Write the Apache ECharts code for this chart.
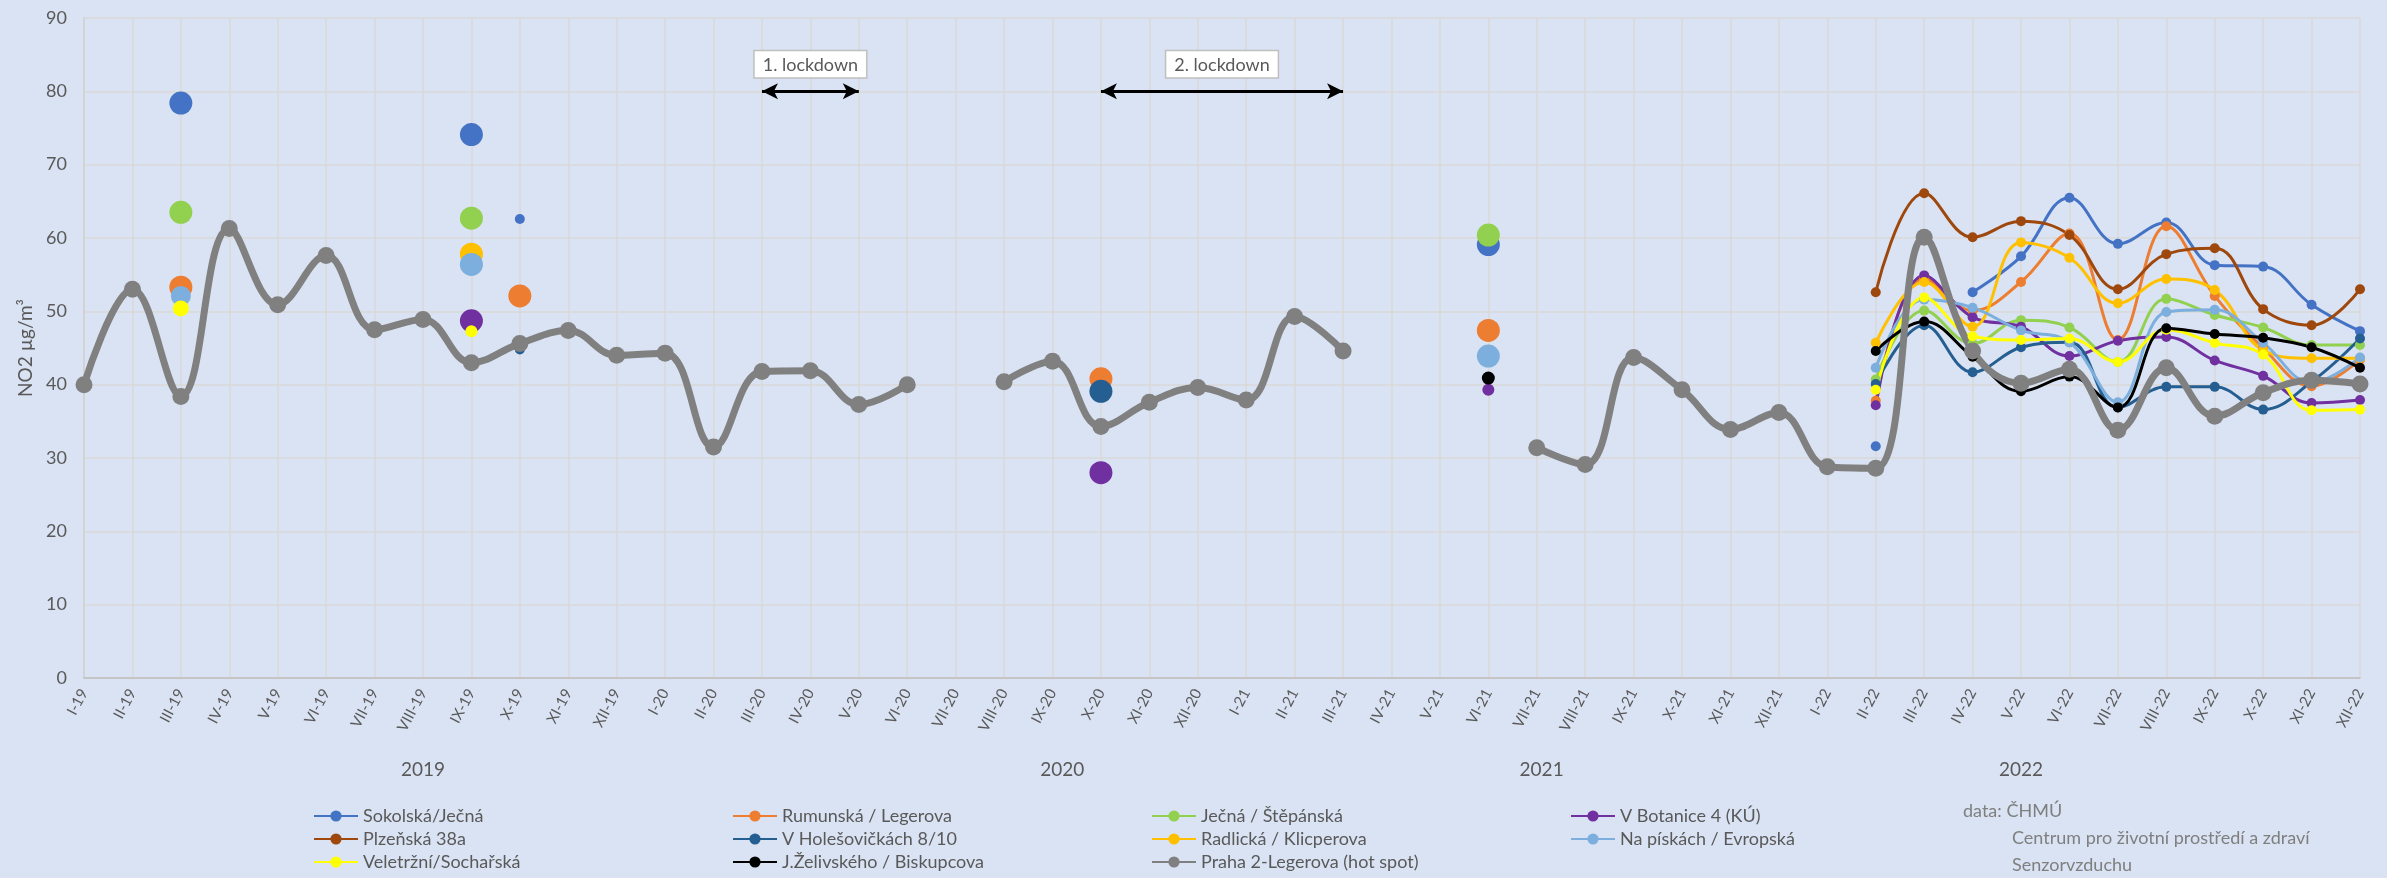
<!DOCTYPE html>
<html>
<head>
<meta charset="utf-8">
<script src="https://cdn.jsdelivr.net/npm/echarts@6/dist/echarts.min.js"></script>
<style>
  html, body { margin: 0; padding: 0; background: #dae3f3; }
  #chart { width: 2387px; height: 878px; }
</style>
</head>
<body>
<div id="chart"></div>
<script>
const _ = null;

const months = [
  'I-19','II-19','III-19','IV-19','V-19','VI-19','VII-19','VIII-19','IX-19','X-19','XI-19','XII-19',
  'I-20','II-20','III-20','IV-20','V-20','VI-20','VII-20','VIII-20','IX-20','X-20','XI-20','XII-20',
  'I-21','II-21','III-21','IV-21','V-21','VI-21','VII-21','VIII-21','IX-21','X-21','XI-21','XII-21',
  'I-22','II-22','III-22','IV-22','V-22','VI-22','VII-22','VIII-22','IX-22','X-22','XI-22','XII-22'
];

const yearLabels = ['2019', '2020', '2021', '2022'];
const yearLabelAt = [7.0, 20.2, 30.1, 40.0];

const yTicks = { min: 0, max: 90, interval: 10 };

const sokolska = [
  _,_,78.4,_,_,_,_,_,74.1,62.6,_,_,
  _,_,_,_,_,_,_,_,_,_,_,_,
  _,_,_,_,_,59.1,_,_,_,_,_,_,
  _,31.6,_,52.6,57.5,65.5,59.2,62.1,56.3,56.1,50.9,47.3
];
const rumunska = [
  _,_,53.3,_,_,_,_,_,_,52.1,_,_,
  _,_,_,_,_,_,_,_,_,40.8,_,_,
  _,_,_,_,_,47.4,_,_,_,_,_,_,
  _,37.8,54.5,50.1,54.0,60.6,46.1,61.6,52.1,45.0,39.8,43.4
];
const jecna = [
  _,_,63.5,_,_,_,_,_,62.7,_,_,_,
  _,_,_,_,_,_,_,_,_,_,_,_,
  _,_,_,_,_,60.4,_,_,_,_,_,_,
  _,40.7,50.1,45.6,48.8,47.8,43.1,51.7,49.5,47.8,45.4,45.4
];
const botanice = [
  _,_,_,_,_,_,_,_,48.7,_,_,_,
  _,_,_,_,_,_,_,_,_,28.0,_,_,
  _,_,_,_,_,39.3,_,_,_,_,_,_,
  _,37.2,54.9,49.2,47.9,43.9,46.0,46.5,43.3,41.2,37.5,37.9
];
const plzenska = [
  _,_,_,_,_,_,_,_,_,_,_,_,
  _,_,_,_,_,_,_,_,_,_,_,_,
  _,_,_,_,_,_,_,_,_,_,_,_,
  _,52.6,66.1,60.1,62.3,60.4,53.0,57.8,58.6,50.3,48.1,53.0
];
const holesovickach = [
  _,_,_,_,_,_,_,_,_,44.8,_,_,
  _,_,_,_,_,_,_,_,_,39.1,_,_,
  _,_,_,_,_,_,_,_,_,_,_,_,
  _,40.1,48.1,41.7,45.1,45.8,36.9,39.7,39.7,36.6,40.4,46.3
];
const radlicka = [
  _,_,_,_,_,_,_,_,57.8,_,_,_,
  _,_,_,_,_,_,_,_,_,_,_,_,
  _,_,_,_,_,_,_,_,_,_,_,_,
  _,45.7,54.0,47.9,59.4,57.3,51.1,54.4,52.9,44.7,43.6,43.6
];
const naPiskach = [
  _,_,52.1,_,_,_,_,_,56.4,_,_,_,
  _,_,_,_,_,_,_,_,_,_,_,_,
  _,_,_,_,_,43.9,_,_,_,_,_,_,
  _,42.3,51.6,50.5,47.4,45.8,37.6,49.9,50.2,45.7,40.3,43.7
];
const veletrzni = [
  _,_,50.4,_,_,_,_,_,47.3,_,_,_,
  _,_,_,_,_,_,_,_,_,_,_,_,
  _,_,_,_,_,_,_,_,_,_,_,_,
  _,39.3,51.9,46.6,46.1,46.3,43.1,47.5,45.7,44.1,36.5,36.6
];
const zelivskeho = [
  _,_,_,_,_,_,_,_,_,_,_,_,
  _,_,_,_,_,_,_,_,_,_,_,_,
  _,_,_,_,_,40.9,_,_,_,_,_,_,
  _,44.6,48.6,43.8,39.1,41.1,36.9,47.7,46.9,46.4,45.1,42.3
];
const legerova = [
  40.0,53.0,38.4,61.3,50.9,57.6,47.5,48.9,43.0,45.6,47.4,44.0,
  44.3,31.5,41.8,41.9,37.3,40.0,_,40.4,43.2,34.3,37.6,39.6,
  37.9,49.3,44.6,_,_,_,31.4,29.1,43.7,39.3,33.9,36.2,
  28.8,28.6,60.1,44.6,40.2,42.1,33.8,42.3,35.7,38.9,40.6,40.1
];

const seriesNames = [
  'Sokolská/Ječná', 'Rumunská / Legerova', 'Ječná / Štěpánská', 'V Botanice 4 (KÚ)',
  'Plzeňská 38a', 'V Holešovičkách 8/10', 'Radlická / Klicperova', 'Na pískách / Evropská',
  'Veletržní/Sochařská', 'J.Želivského / Biskupcova', 'Praha 2-Legerova (hot spot)'
];
const seriesValues = [sokolska, rumunska, jecna, botanice, plzenska, holesovickach,
  radlicka, naPiskach, veletrzni, zelivskeho, legerova];

// campaign measurements before 2022 are single points; continuous monitoring starts in 2022
const continuousFrom = 'I-22';

const lockdownLabels = ['1. lockdown', '2. lockdown'];
const lockdownFrom = ['III-20', 'X-20'];
const lockdownTo = ['V-20', 'III-21'];
const lockdownLevel = 80;

const sourceLines = ['data: ČHMÚ', 'Centrum pro životní prostředí a zdraví', 'Senzorvzduchu'];

/* ---------- styles (kept apart from the data) ---------- */
const FONT = 'Lato, "Open Sans", sans-serif';
const colors = ['#4472C4', '#ED7D31', '#92D050', '#7030A0', '#9E480E', '#255E91',
  '#FFC000', '#7CAFDD', '#FFFF00', '#000000', '#808080'];
const markerOverrides = {
  0: { 9: 10 },
  3: { 29: 12 },
  5: { 9: 10 },
  7: { 2: 20 },
  8: { 2: 16, 8: 12 },
  9: { 29: 13 }
};
const HOT = 10;
const splitIdx = months.indexOf(continuousFrom);

const series = [];
seriesValues.forEach((vals, si) => {
  const isHot = si === HOT;
  const lineData = isHot ? vals : vals.map((v, i) => (i >= splitIdx ? v : null));
  series.push({
    name: seriesNames[si],
    type: 'line',
    data: lineData,
    smooth: 0.4,
    connectNulls: false,
    showSymbol: true,
    showAllSymbol: true,
    symbol: 'circle',
    symbolSize: isHot ? 17 : 10,
    lineStyle: { color: colors[si], width: isHot ? 7 : 3 },
    itemStyle: { color: colors[si] },
    emphasis: { disabled: true },
    z: 2
  });
  if (!isHot) {
    const pointData = vals.map((v, i) => (i < splitIdx ? v : null));
    series.push({
      name: seriesNames[si],
      type: 'scatter',
      data: pointData,
      symbol: 'circle',
      symbolSize: (v, p) => {
        const ov = markerOverrides[si];
        if (ov && ov[p.dataIndex] != null) return ov[p.dataIndex];
        return 23;
      },
      itemStyle: { color: colors[si], opacity: 1 },
      emphasis: { disabled: true },
      z: 2
    });
  }
});

series.push({
  name: 'lockdowns',
  type: 'line',
  data: [],
  silent: true,
  z: 5,
  markLine: {
    silent: true,
    symbol: ['arrow', 'arrow'],
    symbolSize: [12, 16],
    lineStyle: { color: '#000', width: 3, type: 'solid' },
    label: {
      show: true,
      position: 'insideMiddleTop',
      distance: 14,
      color: '#595959',
      fontSize: 18,
      fontFamily: FONT,
      backgroundColor: '#ffffff',
      borderColor: '#bfbfbf',
      borderWidth: 1.5,
      padding: [5, 8, 3, 8]
    },
    emphasis: { disabled: true },
    data: lockdownLabels.map((lab, i) => [
      { coord: [lockdownFrom[i], lockdownLevel], label: { formatter: lab } },
      { coord: [lockdownTo[i], lockdownLevel] }
    ])
  }
});

const chart = echarts.init(document.getElementById('chart'), null, { renderer: 'canvas' });
chart.setOption({
  animation: false,
  backgroundColor: '#dae3f3',
  textStyle: { fontFamily: FONT },
  grid: { left: 84, right: 27, top: 18, bottom: 200 },
  legend: {
    data: seriesNames,
    left: 308,
    top: 801,
    width: 1700,
    itemWidth: 44,
    itemHeight: 14,
    itemGap: 3,
    textStyle: { fontSize: 18, color: '#595959', width: 366, lineHeight: 20, fontFamily: FONT }
  },
  xAxis: [
    {
      type: 'category',
      data: months,
      boundaryGap: false,
      axisLine: { show: true, lineStyle: { color: '#bfbfbf', width: 1.5 } },
      axisTick: { show: false },
      splitLine: { show: true, interval: 0, lineStyle: { color: '#d9d9d9', width: 1.5 } },
      axisLabel: { interval: 0, rotate: 62, fontSize: 15, color: '#595959', margin: 12, fontFamily: FONT }
    },
    {
      type: 'value',
      min: 0,
      max: months.length - 1,
      position: 'bottom',
      offset: 80,
      axisLine: { show: false },
      axisTick: { show: false },
      splitLine: { show: false },
      axisLabel: {
        customValues: yearLabelAt,
        formatter: (v) => {
          const k = yearLabelAt.findIndex(p => Math.abs(p - v) < 1e-6);
          return k >= 0 ? yearLabels[k] : '';
        },
        fontSize: 19, color: '#595959', margin: 2, fontFamily: FONT
      }
    }
  ],
  yAxis: {
    type: 'value',
    min: yTicks.min,
    max: yTicks.max,
    interval: yTicks.interval,
    name: 'NO2 µg/m³',
    nameLocation: 'middle',
    nameRotate: 90,
    nameGap: 48,
    nameTextStyle: { fontSize: 19, color: '#595959', fontFamily: FONT },
    axisLine: { show: true, lineStyle: { color: '#d0d0d0', width: 1.5 } },
    axisTick: { show: false },
    splitLine: { show: true, lineStyle: { color: '#d9d9d9', width: 1.5 } },
    axisLabel: { fontSize: 18, color: '#595959', margin: 17, fontFamily: FONT }
  },
  graphic: sourceLines.map((t, i) => ({
    type: 'text',
    left: i === 0 ? 1963 : 2012,
    top: [802, 829, 856][i],
    silent: true,
    style: { text: t, fill: '#7f7f7f', font: '18px ' + FONT }
  })),
  series: series
});
</script>
</body>
</html>
